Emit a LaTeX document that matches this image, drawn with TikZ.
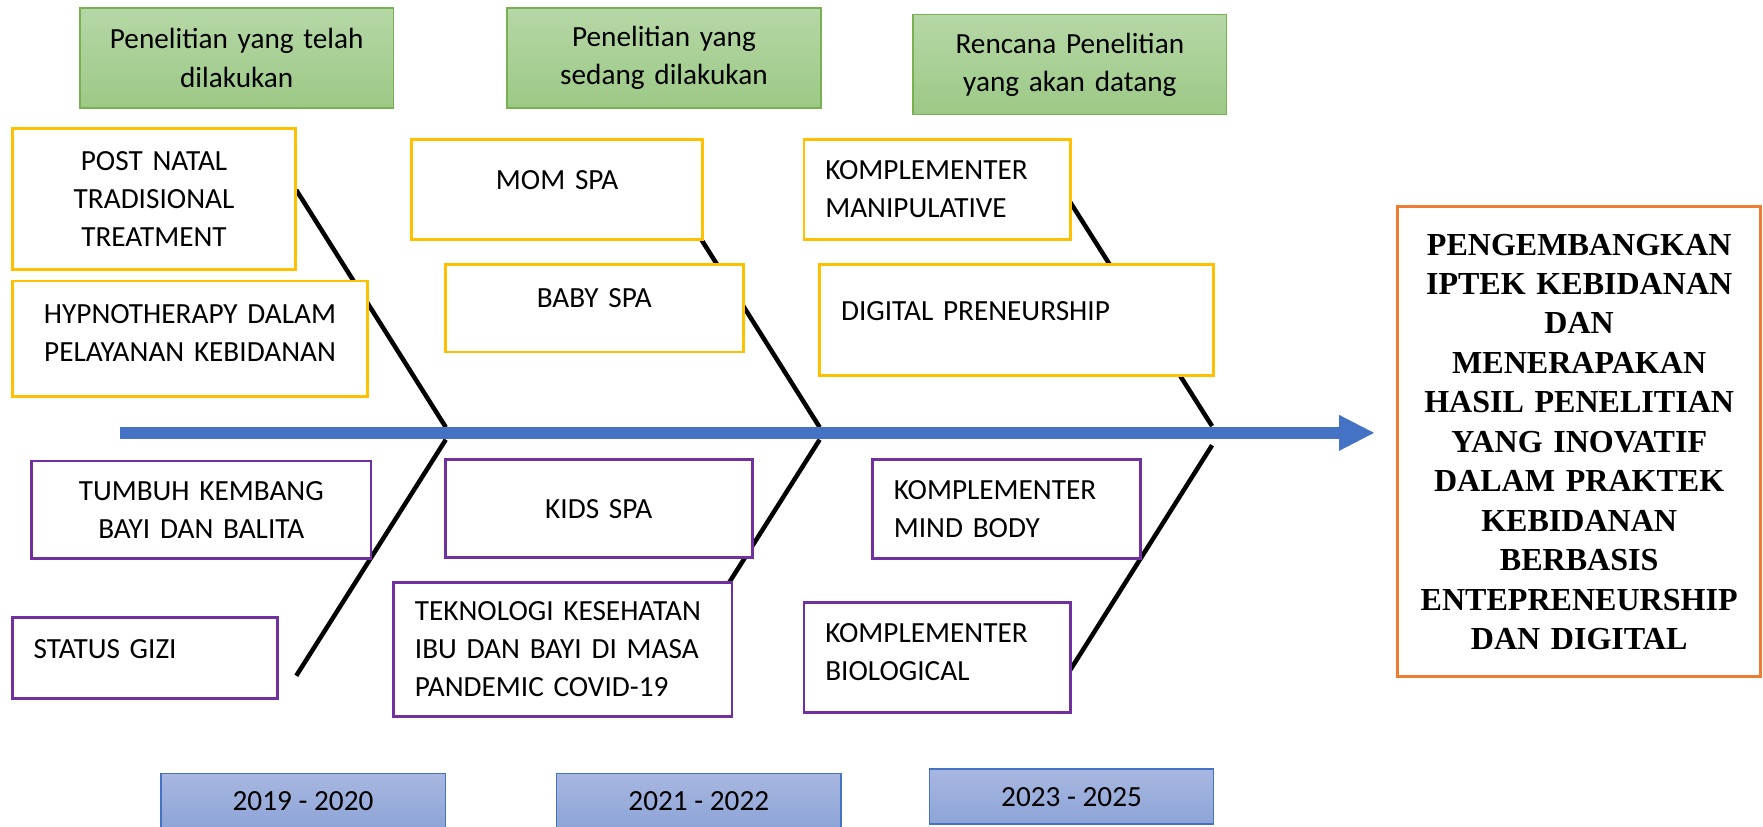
\documentclass[tikz,border=0pt]{standalone}
\usepackage{fontspec}
\setmainfont{Carlito}
\newfontfamily\tnrfont{Liberation Serif}
\usetikzlibrary{arrows.meta}
\definecolor{goldc}{HTML}{FFC000}
\definecolor{purplec}{HTML}{7030A0}
\definecolor{orangec}{HTML}{ED7D31}
\definecolor{bluec}{HTML}{4472C4}
\definecolor{greenb}{RGB}{120,178,80}
\definecolor{greent}{RGB}{182,215,166}
\definecolor{greenbt}{RGB}{156,201,134}
\definecolor{yeart}{RGB}{168,183,224}
\definecolor{yearb}{RGB}{141,164,215}
\newcommand\cfs{\fontsize{26pt}{34pt}\selectfont}
\newcommand\padd[1]{\rule[-#1]{0pt}{#1}}
\begin{document}
\begin{tikzpicture}[x=1pt,y=-1pt,
  box/.style={draw, fill=white, line width=2.5pt, inner xsep=0pt, inner ysep=0pt, font=\cfs, anchor=center},
  ybox/.style={box, draw=goldc},
  pbox/.style={box, draw=purplec},
  lefttext/.style={align=left, inner xsep=19pt},
  ctext/.style={align=center},
  gbox/.style={draw=greenb, line width=1.3pt, top color=greent, bottom color=greenbt, font=\cfs, align=center, inner sep=0pt, minimum width=279pt, minimum height=89pt, text width=265pt},
  yearbox/.style={draw=bluec, line width=1.3pt, top color=yeart, bottom color=yearb, font=\cfs, align=center, inner sep=0pt, minimum width=253pt, minimum height=49pt},
  bone/.style={line width=4pt, black},
  spine/.style={line width=10pt, bluec, -{Triangle[width=32pt,length=31pt,line width=0pt]}}
]
\useasboundingbox (0,0) rectangle (1568,735.5);

% spine and bones
\coordinate (sp0) at (107,385);
\coordinate (sp1) at (1222,385);
\coordinate (j1u) at (396.5,380); \coordinate (j1d) at (396.5,391);
\coordinate (b1a) at (263.5,169); \coordinate (b1b) at (263.5,601);
\coordinate (j2u) at (729,380); \coordinate (j2d) at (729,391);
\coordinate (b2a) at (596,169); \coordinate (b2b) at (596,601);
\coordinate (j3u) at (1078,379); \coordinate (j3d) at (1078,396);
\coordinate (b3a) at (945,169); \coordinate (b3b) at (948,602);

\draw[bone] (b1a) -- (j1u);
\draw[bone] (j1d) -- (b1b);
\draw[bone] (b2a) -- (j2u);
\draw[bone] (j2d) -- (b2b);
\draw[bone] (b3a) -- (j3u);
\draw[bone] (j3d) -- (b3b);
\draw[spine] (sp0) -- (sp1);

% headers
\node[gbox] (g1) at (210.5,51.5) {Penelitian yang telah\\dilakukan};
\node[gbox] (g2) at (590.5,51.5) {Penelitian yang\\sedang dilakukan};
\node[gbox] (g3) at (951.5,57.5) {Rencana Penelitian\\yang akan datang};

% upper boxes
\node[ybox, ctext, minimum width=252pt, minimum height=126pt, text width=232pt] (pn) at (137,177) {POST NATAL\\TRADISIONAL\\TREATMENT};
\node[ybox, ctext, minimum width=316pt, minimum height=103pt, text width=300pt] (hy) at (169,301.5) {HYPNOTHERAPY DALAM\\PELAYANAN KEBIDANAN\padd{10pt}};
\node[ybox, ctext, minimum width=259pt, minimum height=89pt, text width=239pt] (mom) at (495.5,168.5) {MOM SPA\padd{16pt}};
\node[ybox, ctext, minimum width=265pt, minimum height=78pt, text width=245pt] (baby) at (528.5,274) {BABY SPA\padd{18pt}};
\node[ybox, lefttext, minimum width=237pt, minimum height=89pt, text width=199pt] (manip) at (833.5,168.5) {KOMPLEMENTER\\MANIPULATIVE};
\node[ybox, lefttext, minimum width=350pt, minimum height=99pt, text width=312pt] (digi) at (904,284.5) {DIGITAL~PRENEURSHIP\padd{16pt}};

% lower boxes
\node[pbox, ctext, minimum width=302pt, minimum height=87pt, text width=282pt] (tumbuh) at (179,453.5) {TUMBUH KEMBANG\\BAYI DAN BALITA};
\node[pbox, lefttext, minimum width=236pt, minimum height=72pt, text width=198pt] (gizi) at (129,585) {STATUS~GIZI\padd{16pt}};
\node[pbox, ctext, minimum width=273pt, minimum height=87pt, text width=253pt] (kids) at (532.5,452.5) {KIDS SPA};
\node[pbox, lefttext, minimum width=301pt, minimum height=119pt, text width=263pt] (tekno) at (500.5,577.5) {TEKNOLOGI~KESEHATAN\\IBU~DAN~BAYI~DI~MASA\\PANDEMIC~COVID-19};
\node[pbox, lefttext, minimum width=238pt, minimum height=88pt, text width=200pt] (mind) at (895,453) {KOMPLEMENTER\\MIND~BODY};
\node[pbox, lefttext, minimum width=237pt, minimum height=98pt, text width=199pt] (bio) at (833.5,585) {KOMPLEMENTER\\BIOLOGICAL\padd{10pt}};

% goal box
\node[draw=orangec, fill=white, line width=2.5pt, inner sep=0pt, minimum width=323pt, minimum height=418pt, text width=315pt, align=center, font=\tnrfont\bfseries\fontsize{28.5pt}{35.1pt}\selectfont] (goal) at (1404.5,393) {PENGEMBANGKAN\\IPTEK KEBIDANAN\\DAN\\MENERAPAKAN\\HASIL PENELITIAN\\YANG INOVATIF\\DALAM PRAKTEK\\KEBIDANAN\\BERBASIS\\ENTEPRENEURSHIP\\DAN DIGITAL};

% years
\node[yearbox] (y1) at (269.5,712.5) {2019 - 2020};
\node[yearbox] (y2) at (621.5,712.5) {2021 - 2022};
\node[yearbox] (y3) at (953,708.5) {2023 - 2025};
\end{tikzpicture}
\end{document}
